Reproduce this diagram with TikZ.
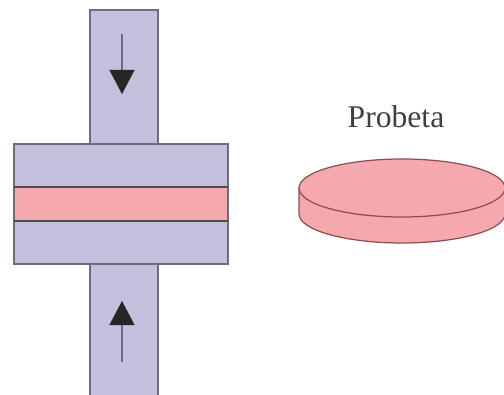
\documentclass[tikz,border=0pt]{standalone}
\usepackage{fontspec}
\setmainfont{Liberation Serif}
\usetikzlibrary{arrows.meta}
\definecolor{lila}{HTML}{C5BEDC}
\definecolor{rosa}{HTML}{F6A8AF}
\definecolor{borde}{HTML}{6F6A7E}
\definecolor{bordeRosa}{HTML}{8A4F55}
\tikzset{
  placa/.style={draw=borde,fill=lila,line width=0.8pt},
  muestra/.style={draw=bordeRosa,fill=rosa,line width=0.7pt},
  fuerza/.style={draw=borde,line width=0.7pt,-{Triangle[length=0.48cm,width=0.5cm,color=black!85]}}
}
\begin{document}
\begin{tikzpicture}
\useasboundingbox (0,0) rectangle (10.08,7.88);
% bars and plates
\begin{scope}
\clip (0,0) rectangle (10.08,7.88);
\draw[placa] (1.80,-0.10) rectangle (3.16,2.60);
\end{scope}
\draw[placa] (1.80,5.00) rectangle (3.16,7.68);
\draw[draw=borde,line width=1.6pt] (1.80,7.68) -- (3.16,7.68);
\draw[placa] (0.28,2.60) rectangle (4.56,5.00);
\fill[rosa] (0.28,3.46) rectangle (4.56,4.14);
\draw[draw=borde,line width=0.8pt] (0.28,3.46) rectangle (4.56,4.14);
\draw[draw=black!70,line width=0.7pt] (0.28,3.46) -- (4.56,3.46) (0.28,4.14) -- (4.56,4.14);
% arrows
\draw[fuerza] (2.44,7.20) -- (2.44,6.00);
\draw[fuerza] (2.44,0.64) -- (2.44,1.86);
% disc
\fill[rosa] (5.98,4.12) -- (5.98,3.60) arc (180:360:2.06 and 0.58) -- (10.10,4.12) -- cycle;
\draw[muestra,fill=none] (5.98,4.12) -- (5.98,3.60) arc (180:360:2.06 and 0.58) -- (10.10,4.12);
\draw[muestra] (8.04,4.12) ellipse (2.06 and 0.58);
\node[font=\fontsize{18}{20}\selectfont,text=black!75] (probeta) at (7.92,5.54) {Probeta};
\end{tikzpicture}
\end{document}
